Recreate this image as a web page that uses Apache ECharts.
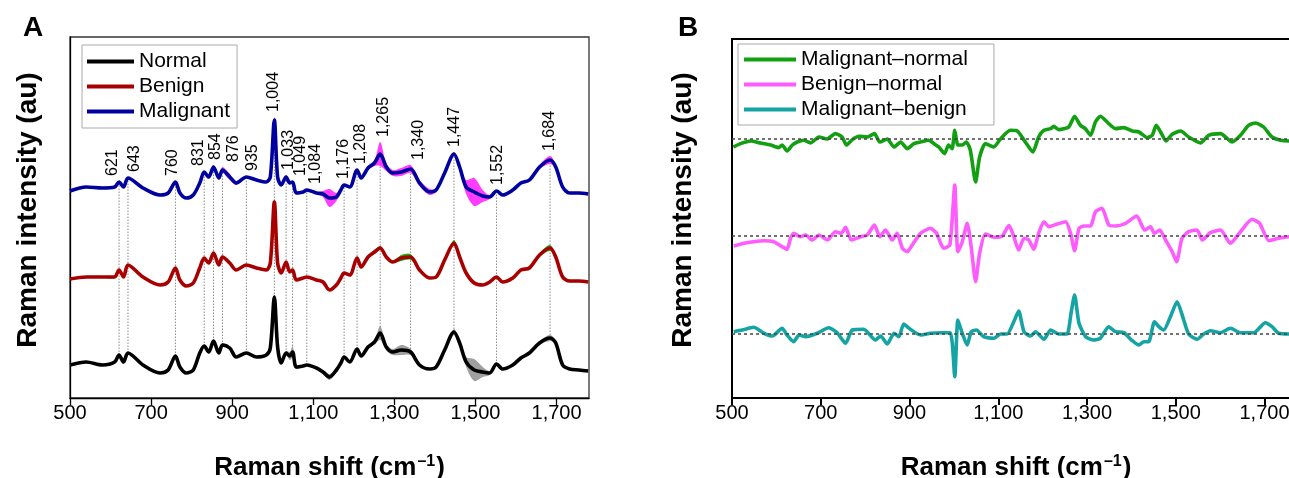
<!DOCTYPE html>
<html>
<head>
<meta charset="utf-8">
<script src="https://cdn.jsdelivr.net/npm/echarts@6/dist/echarts.min.js"></script>
<style>
html,body{margin:0;padding:0;background:#fff;}
#c{width:1289px;height:478px;}
</style>
</head>
<body>
<div id="c"></div>
<script>
// ---------------- DATA ----------------
// Panel A: mean Raman spectra (au, each relative to its own baseline)
const wavenumbersA = [500,540,580,610,621,632,643,680,722,742,760,771,787,804,820,831,842,854,867,876,894,910,935,960,984,994,1004,1012,1021,1033,1042,1049,1058,1075,1084,1108,1124,1140,1157,1168,1176,1190,1208,1218,1235,1251,1265,1280,1296,1317,1340,1362,1387,1403,1424,1447,1461,1477,1497,1518,1535,1552,1567,1592,1612,1633,1658,1684,1698,1715,1732,1755,1778];
const normal = [33,36,33,36,43,36,45, 33,25,28,42,31,25,28, 45,52,46,57,45,53,50, 41,45,41,43,50,101,51, 35,45,42,46,31,32,33, 30,26,21,28,35,41,36, 49,42,51,56,65,51,46, 48,46,33,29,31,48,66, 55,36,28,26,25,34,29, 33,40,45,55,60,55,33, 29,28,27];
const benign = [31,33,33,33,40,33,45, 33,25,28,42,30,24,27, 42,52,47,57,45,53,47, 40,45,42,40,47,108,47, 37,48,38,40,30,32,33, 30,28,20,25,32,37,35, 52,43,53,58,62,53,48, 52,53,40,32,33,50,67, 53,37,27,25,28,33,28, 32,40,42,55,62,53,33, 29,29,28];
const malignant = [31,35,34,35,40,35,44, 34,27,29,40,29,24,27, 39,50,45,55,44,52,45, 39,45,42,40,45,102,45, 37,45,39,40,29,30,32, 29,28,24,25,32,37,35, 52,44,54,59,68,55,49, 50,53,39,30,32,49,68, 55,35,30,26,25,31,27, 32,39,42,55,62,55,35, 29,29,28];
// standard deviations (shaded bands)
const normalSD = [1,1,1,1,1,1,1, 1,1,1,1,1,1,1, 1,1,1,2,1,2,1, 1,1,1,1,2,3,2, 1,2,4,6,2,1,1, 1,2,3,2,1,1,1, 1,1,2,2,7,3,3, 5,3,1,1,1,1,3, 2,5,11,5,2,1,1, 1,1,1,2,3,2,1, 1,1,1];
const benignSD = [1,1,1,1,1,1,1, 1,1,1,1,1,1,1, 1,1,1,1,1,1,2, 1,1,1,1,1,3,1, 1,1,1,1,1,1,1, 1,1,1,1,1,1,1, 1,1,1,2,2,1,1, 3,3,1,1,1,1,3, 1,1,1,1,1,1,1, 1,1,1,2,3,1,1, 1,1,1];
const malignantSD = [1,1,1,1,1,1,1, 1,1,1,1,1,1,1, 1,1,1,2,2,3,3, 2,1,1,1,1,3,1, 1,2,1,1,1,1,1, 1,3,9,4,2,1,1, 1,1,2,3,12,4,3, 4,4,3,3,2,1,2, 2,7,14,6,2,1,1, 1,1,1,2,4,2,1, 1,1,1];
const peakLabels = [621,643,760,831,854,876,935,1004,1033,1049,1084,1176,1208,1265,1340,1447,1552,1684];

// Panel B: difference spectra (au, relative to zero line)
const mnX = [503,519,542,564,587,605,613,624,636,647,662,677,696,714,733,748,758,771,786,805,821,833,850,865,880,895,910,925,943,955,966,979,988,996,1002,1009,1019,1028,1037,1049,1058,1071,1090,1105,1127,1143,1161,1178,1191,1203,1218,1225,1236,1259,1272,1285,1296,1308,1319,1330,1349,1364,1383,1402,1417,1436,1447,1456,1466,1478,1492,1511,1529,1556,1574,1601,1627,1646,1664,1680,1698,1717,1736,1756,1778];
const mnY = [-8,-4.6,-2,-4,-6,-8.6,-6,-12,-6,-3,-1.3,-4,2,0,5.4,2,-6,-0.6,2.7,2,5.4,-3,0,-8,-3,-9.6,-4.6,-3,-1.3,-4.6,-8,-14.6,-6,-9.6,8.7,-6,-6,-3,-11,-43,-18,-4.6,-8,0,8.7,8,-3,-13,2,8.7,10.4,12.7,9.4,12,22.7,13.7,10.4,3.7,17,22.7,15.4,10.4,11.4,8,7,1.4,3.7,13.7,7,-2,4.7,8,2,-4,3.7,5.4,-3,3.7,13.7,16,12,2,-1.3,-2,-2];
const bnX = [504,527,549,572,594,613,624,632,639,654,666,681,696,715,733,746,756,769,790,805,821,833,846,861,872,884,895,906,925,947,961,977,991,1002,1009,1019,1030,1039,1049,1058,1071,1090,1109,1124,1134,1146,1158,1169,1180,1191,1203,1214,1233,1252,1263,1272,1282,1293,1308,1319,1334,1349,1364,1387,1412,1430,1443,1452,1464,1477,1492,1502,1514,1529,1548,1560,1578,1601,1623,1646,1672,1689,1710,1732,1756,1778];
const bnY = [-10,-7.3,-5.7,-4.7,-5.7,-10.7,-13.3,-2.3,2.7,-0.7,1,-4,1,-4,4.3,2.7,8.7,-4,-0.7,1,11,-0.7,6,-4,2.7,-12.3,-15.7,-9,2.7,7.7,2.7,-12.3,-9,51,-15.7,-5.7,12.7,-10.7,-45.7,-17.3,2,-1.3,0,10.5,1,-14,-2.3,-4,-13.3,2.7,14.3,9.3,12,14.3,2.7,-14.7,7.7,10,10,24.3,27.7,11,10,12.7,20,6,9.3,2.7,6,-4,-15.7,-25.7,-2.3,4.3,6,-4,3.3,6,-7.3,4.3,16.7,12.7,-4.7,-2.3,-0.7,-0.5];
const mbX = [504,523,549,572,591,613,624,639,651,666,692,718,737,756,771,797,823,835,850,865,876,887,902,925,947,970,992,1002,1009,1019,1030,1039,1051,1067,1090,1105,1120,1135,1146,1158,1173,1184,1203,1218,1236,1255,1264,1272,1282,1297,1315,1330,1349,1364,1383,1402,1417,1428,1439,1452,1462,1473,1488,1503,1518,1529,1548,1563,1578,1601,1623,1646,1676,1702,1717,1732,1756,1778];
const mbY = [2.3,4,6.7,0.7,-2,5.7,-1,-7.7,-1,-2.7,0.7,6.3,1.3,-9.3,4,4.7,-6,-2,-10,0.7,-2.7,10,4.7,-1,0.7,1.3,1.3,-42.7,14,0.7,-11,2.3,4,-2.7,-4.3,0,0,12.3,23,2.3,-2,2.3,-5.3,4,0,0,20.7,39,10.7,-2.7,-6,-4.3,7.3,2.3,1.3,-6.7,-11,-7.7,-7.7,12.3,7.3,4,17.3,32.3,14,0,-5.3,0,3.3,1.3,5.7,1.3,1.3,11.3,7.3,0.7,0,0];

const xTicks = [500,700,900,1100,1300,1500,1700];

// ---------------- LAYOUT / STYLE ----------------
const OFFSET_A = {normal: 0, benign: 88, malignant: 176};
const OFFSET_B = {mb: 64, bn: 162, mn: 259};
const peakLabelDx = [-6,7,-3,-6,2,11,6,-1,2,8,9,-1,4,3,8,1,1,0];
const FONT = '"Liberation Sans", Arial, Helvetica, sans-serif';
const SMOOTH = 0.3;
const fmt = v => v.toLocaleString('en-US');

function xAxisCfg(gi) {
  return {
    type: 'value', gridIndex: gi, min: 500, max: 1780,
    axisLine: {show: true, lineStyle: {color: '#000', width: gi === 0 ? 1.3 : 2}},
    axisTick: {show: true, length: 7, inside: false, customValues: xTicks, lineStyle: {color: '#000', width: gi === 0 ? 1.3 : 2}},
    axisLabel: {customValues: xTicks, fontSize: 20, color: '#000', fontFamily: FONT, margin: 5,
      formatter: v => xTicks.indexOf(v) >= 0 ? fmt(v) : ''},
    splitLine: {show: false},
    name: 'Raman shift (cm{sup|–1})', nameLocation: 'middle', nameGap: 56,
    nameTextStyle: {fontSize: 26, fontWeight: 'bold', color: '#000', fontFamily: FONT,
      rich: {sup: {fontSize: 16, fontWeight: 'bold', color: '#000', fontFamily: FONT, verticalAlign: 'top', padding: [0, 1, 12, 1]}}}
  };
}
function yAxisCfg(gi, max) {
  return {type: 'value', gridIndex: gi, min: 0, max: max,
    axisLine: {show: true, lineStyle: {color: '#000', width: gi === 0 ? 1.3 : 2}},
    axisTick: {show: false}, axisLabel: {show: false}, splitLine: {show: false}};
}

const series = [];
const specs = [
  {name: 'Normal', data: normal, sd: normalSD, off: OFFSET_A.normal, color: '#000000', band: '#a0a0a0'},
  {name: 'Benign', data: benign, sd: benignSD, off: OFFSET_A.benign, color: '#a80000', band: '#19b019'},
  {name: 'Malignant', data: malignant, sd: malignantSD, off: OFFSET_A.malignant, color: '#0000a0', band: '#ff3cff'}
];
// shaded +/- SD bands
series.push({
  type: 'custom', xAxisIndex: 0, yAxisIndex: 0, z: 2, silent: true,
  data: specs.map((s, k) => [wavenumbersA[k], s.data[k] + s.off]),
  renderItem: (params, api) => {
    const s = specs[params.dataIndex];
    const upper = wavenumbersA.map((x, i) => api.coord([x, s.data[i] + s.off + s.sd[i]]));
    const lower = wavenumbersA.map((x, i) => api.coord([x, s.data[i] + s.off - s.sd[i]])).reverse();
    return {type: 'polygon', shape: {points: upper.concat(lower), smooth: 0.3}, style: {fill: s.band}};
  }
});
// peak guide lines and labels
series.push({
  type: 'custom', xAxisIndex: 0, yAxisIndex: 0, z: 1, silent: true,
  data: peakLabels.map((p, k) => {
    const i = wavenumbersA.indexOf(p);
    return [p, normal[i] + OFFSET_A.normal, malignant[i] + OFFSET_A.malignant,
            malignant[i] + OFFSET_A.malignant + malignantSD[i], peakLabelDx[k]];
  }),
  renderItem: (params, api) => {
    const x = api.value(0);
    const pb = api.coord([x, api.value(1)]);
    const pt = api.coord([x, api.value(2)]);
    const pl = api.coord([x, api.value(3)]);
    return {type: 'group', children: [
      {type: 'line', shape: {x1: pb[0], y1: pb[1], x2: pt[0], y2: pt[1]},
       style: {stroke: '#8a8a8a', lineWidth: 1, lineDash: [1.5, 1.5]}},
      {type: 'text', x: pl[0] + api.value(4), y: pl[1] - 5, rotation: Math.PI / 2,
       style: {text: fmt(x), fill: '#000', font: '16px ' + FONT, align: 'left', verticalAlign: 'middle'}}
    ]};
  }
});
specs.forEach(s => {
  series.push({type: 'line', name: s.name, xAxisIndex: 0, yAxisIndex: 0, symbol: 'none', smooth: SMOOTH, z: 3,
    lineStyle: {color: s.color, width: 3.6}, itemStyle: {color: s.color},
    data: wavenumbersA.map((x, i) => [x, s.data[i] + s.off])});
});

const diffs = [
  {name: 'Malignant–normal', x: mnX, y: mnY, off: OFFSET_B.mn, color: '#12a012'},
  {name: 'Benign–normal', x: bnX, y: bnY, off: OFFSET_B.bn, color: '#ff5cff'},
  {name: 'Malignant–benign', x: mbX, y: mbY, off: OFFSET_B.mb, color: '#15a3a3'}
];
diffs.forEach(d => {
  series.push({type: 'line', name: d.name, xAxisIndex: 1, yAxisIndex: 1, symbol: 'none', smooth: 0.2, z: 3,
    lineStyle: {color: d.color, width: 3.6}, itemStyle: {color: d.color},
    data: d.x.map((x, i) => [x, d.y[i] + d.off]),
    markLine: {silent: true, symbol: 'none', label: {show: false}, animation: false,
      lineStyle: {color: '#444', type: [3, 3], width: 1.5}, data: [{yAxis: d.off}]}});
});

const legendBase = {orient: 'vertical', icon: 'rect', itemHeight: 4, itemGap: 4,
  borderColor: '#aaaaaa', borderWidth: 1, backgroundColor: '#fff', selectedMode: false,
  textStyle: {fontSize: 21, color: '#000', fontFamily: FONT}};

const option = {
  animation: false,
  backgroundColor: '#fff',
  grid: [
    {left: 70, right: 700, top: 37, bottom: 80, show: true, borderColor: '#333', borderWidth: 1.3,
     backgroundColor: 'transparent', containLabel: false, outerBoundsMode: 'none'},
    {left: 732, right: -11, top: 39, bottom: 80, show: true, borderColor: '#000', borderWidth: 2,
     backgroundColor: 'transparent', containLabel: false, outerBoundsMode: 'none'}
  ],
  xAxis: [xAxisCfg(0), xAxisCfg(1)],
  yAxis: [yAxisCfg(0, 361), yAxisCfg(1, 359)],
  legend: [
    Object.assign({}, legendBase, {data: ['Normal', 'Benign', 'Malignant'], left: 82, top: 45,
      itemWidth: 47, padding: [6, 7, 6, 5]}),
    Object.assign({}, legendBase, {data: ['Malignant–normal', 'Benign–normal', 'Malignant–benign'], left: 738, top: 44,
      itemWidth: 52, padding: [5, 26, 5, 6]})
  ],
  graphic: [
    {type: 'text', x: 33, y: 28, style: {text: 'A', font: 'bold 28px ' + FONT, fill: '#000', align: 'center', verticalAlign: 'middle'}},
    {type: 'text', x: 688, y: 28, style: {text: 'B', font: 'bold 28px ' + FONT, fill: '#000', align: 'center', verticalAlign: 'middle'}},
    {type: 'text', x: 28, y: 210, rotation: Math.PI / 2, style: {text: 'Raman intensity (au)', font: 'bold 28px ' + FONT, fill: '#000', align: 'center', verticalAlign: 'middle'}},
    {type: 'text', x: 683, y: 210, rotation: Math.PI / 2, style: {text: 'Raman intensity (au)', font: 'bold 28px ' + FONT, fill: '#000', align: 'center', verticalAlign: 'middle'}}
  ],
  series: series
};

const chart = echarts.init(document.getElementById('c'), null, {renderer: 'canvas'});
chart.setOption(option);
</script>
</body>
</html>
